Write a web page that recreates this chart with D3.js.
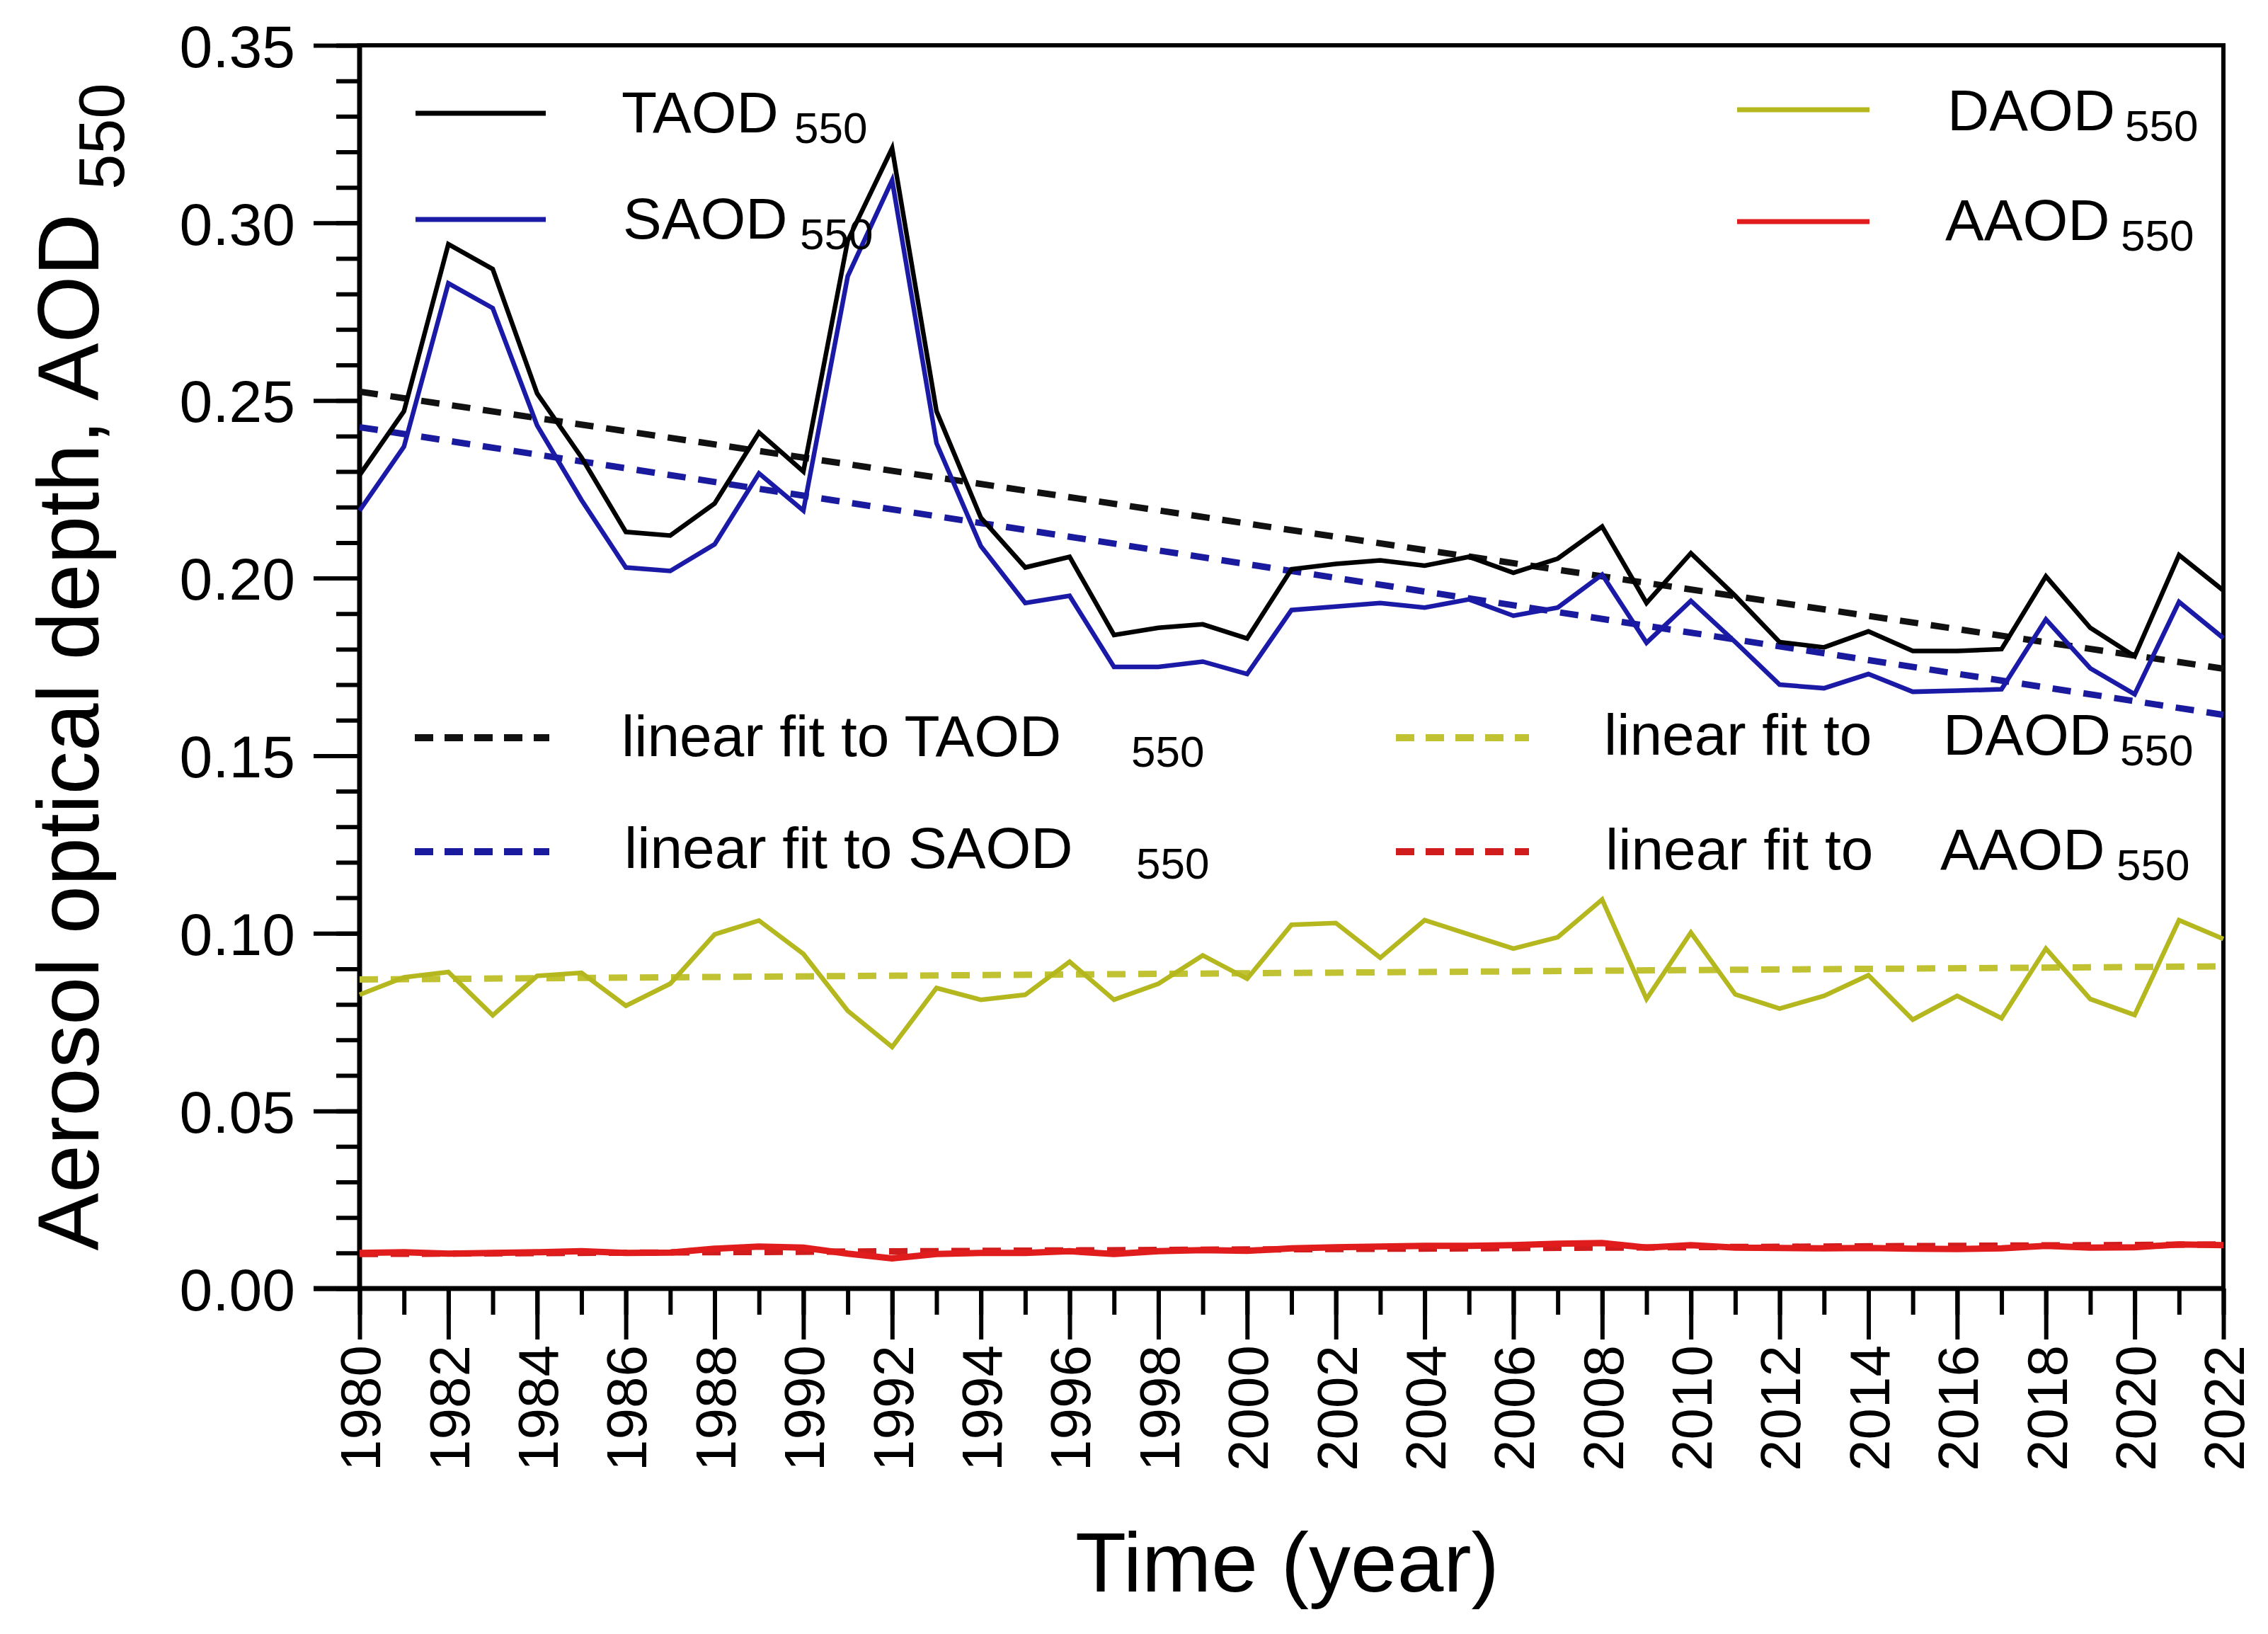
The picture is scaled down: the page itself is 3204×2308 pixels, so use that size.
<!DOCTYPE html>
<html lang="en">

<head>
  <meta charset="UTF-8">
  <title>AOD 550</title>
  <script src="https://d3js.org/d3.v7.min.js"></script>
  <style>
    body { margin: 0; background: #fff; }
    text { font-family: "Liberation Sans", Arial, sans-serif; fill: #000; }
  </style>
</head>

<body>
  <div id="chart"></div>

  <script>

    // yearly values
    const years = d3.range(1980, 2023);

    const taod = [0.229, 0.247, 0.294, 0.287, 0.252, 0.234, 0.213, 0.212, 0.221, 0.241,
      0.230, 0.295, 0.321, 0.247, 0.217, 0.203, 0.206, 0.184, 0.186, 0.187,
      0.183, 0.2025, 0.204, 0.205, 0.2035, 0.206, 0.2015, 0.2055, 0.2145, 0.193,
      0.207, 0.195, 0.182, 0.1805, 0.185, 0.1795, 0.1795, 0.180, 0.2005, 0.186,
      0.178, 0.2065, 0.1965];

    const saod = [0.219, 0.237, 0.283, 0.276, 0.243, 0.222, 0.203, 0.202, 0.2095, 0.2295,
      0.219, 0.285, 0.312, 0.238, 0.209, 0.193, 0.195, 0.175, 0.175, 0.1765,
      0.173, 0.191, 0.192, 0.193, 0.1917, 0.194, 0.1894, 0.1917, 0.201, 0.1818,
      0.1936, 0.182, 0.170, 0.169, 0.173, 0.168, 0.1683, 0.1687, 0.1884, 0.1746,
      0.1673, 0.1933, 0.1831];

    const daod = [0.0827, 0.0876, 0.0891, 0.0769, 0.0880, 0.0889, 0.0796, 0.0858, 0.0997, 0.1036,
      0.0942, 0.0782, 0.0680, 0.0846, 0.0813, 0.0827, 0.0920, 0.0813, 0.0858, 0.0938,
      0.0872, 0.1024, 0.1029, 0.0931, 0.1037, 0.0997, 0.0957, 0.0989, 0.1095, 0.0815,
      0.1002, 0.0828, 0.0788, 0.0824, 0.0882, 0.0757, 0.0824, 0.0761, 0.0957, 0.0815,
      0.0770, 0.1037, 0.0984];

    const aaod = [0.0100, 0.0102, 0.0098, 0.0100, 0.0102, 0.0105, 0.0100, 0.0101, 0.0112, 0.0118,
      0.0115, 0.0098, 0.0085, 0.0097, 0.0100, 0.0100, 0.0105, 0.0097, 0.0105, 0.0108,
      0.0106, 0.0113, 0.0116, 0.0118, 0.0120, 0.0120, 0.0122, 0.0126, 0.0128, 0.0115,
      0.0122, 0.0115, 0.0114, 0.0113, 0.0114, 0.0112, 0.0111, 0.0113, 0.0120, 0.0115,
      0.0116, 0.0124, 0.0122];

    // linear fits, end points at 1980 and 2022
    const fitYears = [1980, 2022];
    const fitTaod = [0.2525, 0.1745];
    const fitSaod = [0.2425, 0.1615];
    const fitDaod = [0.0870, 0.0907];
    const fitAaod = [0.0097, 0.0124];

    const yMajor = [0, 0.05, 0.10, 0.15, 0.20, 0.25, 0.30, 0.35];
    const xMajor = d3.range(1980, 2023, 2);

    const W = 3204, H = 2308;
    const pLeft = 508, pRight = 3141, pTop = 64, pBottom = 1820;

    const svg = d3.select('#chart').append('svg')
      .attr('width', W)
      .attr('height', H);

    svg.append('rect').attr('width', W).attr('height', H).attr('fill', '#fff');

    const x = d3.scaleLinear().domain([1980, 2022]).range([pLeft, pRight]);
    const y = d3.scaleLinear().domain([0, 0.35]).range([pBottom, pTop]);

    // y axis ticks
    svg.append('g')
      .attr('transform', `translate(${pLeft},0)`)
      .call(d3.axisLeft(y).tickValues(y.ticks(35)).tickSize(33).tickFormat(''))
      .call(g => g.select('.domain').remove());

    const yAxis = svg.append('g')
      .attr('transform', `translate(${pLeft},0)`)
      .call(d3.axisLeft(y).tickValues(yMajor).tickSize(65).tickPadding(26).tickFormat(d3.format('.2f')))
      .call(g => g.select('.domain').remove());
    yAxis.selectAll('text')
      .attr('dy', '0.36em')
      .style('font-size', '84px')
      .style('font-family', '"Liberation Sans", Arial, sans-serif');

    // x axis ticks
    svg.append('g')
      .attr('transform', `translate(0,${pBottom})`)
      .call(d3.axisBottom(x).tickValues(years).tickSize(37).tickFormat(''))
      .call(g => g.select('.domain').remove());

    const xAxis = svg.append('g')
      .attr('transform', `translate(0,${pBottom})`)
      .call(d3.axisBottom(x).tickValues(xMajor).tickSize(72).tickFormat(d3.format('d')))
      .call(g => g.select('.domain').remove());
    xAxis.selectAll('text')
      .attr('transform', 'rotate(-90)')
      .attr('x', -80)
      .attr('y', 0)
      .attr('dy', '0.36em')
      .style('text-anchor', 'end')
      .style('font-size', '80px')
      .style('font-family', '"Liberation Sans", Arial, sans-serif');

    svg.selectAll('.tick line').attr('stroke', '#000').attr('stroke-width', 6);

    // frame
    svg.append('rect')
      .attr('x', pLeft).attr('y', pTop)
      .attr('width', pRight - pLeft).attr('height', pBottom - pTop)
      .attr('fill', 'none').attr('stroke', '#000').attr('stroke-width', 6);
    svg.append('line').attr('x1', pLeft).attr('x2', pLeft).attr('y1', pTop - 3).attr('y2', pBottom + 3)
      .attr('stroke', '#000').attr('stroke-width', 7);
    svg.append('line').attr('x1', pLeft - 65).attr('x2', pRight + 3).attr('y1', pBottom).attr('y2', pBottom)
      .attr('stroke', '#000').attr('stroke-width', 7);

    // series
    const line = d3.line().x(d => x(d[0])).y(d => y(d[1]));
    const pairs = (xs, vs) => xs.map((v, i) => [v, vs[i]]);

    const plot = svg.append('g');

    const series = [
      { v: daod, color: '#b4b71e', w: 6.5 },
      { v: aaod, color: '#e01c1c', w: 9 },
      { v: saod, color: '#1a1aa6', w: 6.5 },
      { v: taod, color: '#000000', w: 6.5 }
    ];
    const fits = [
      { v: fitDaod, color: '#c0c232' },
      { v: fitAaod, color: '#d01c1c' },
      { v: fitSaod, color: '#1a1a9e' },
      { v: fitTaod, color: '#111111' }
    ];

    plot.selectAll('.fit')
      .data(fits)
      .enter()
      .append('path')
      .attr('class', 'fit')
      .attr('d', d => line(pairs(fitYears, d.v)))
      .attr('fill', 'none')
      .attr('stroke', d => d.color)
      .attr('stroke-width', 9)
      .attr('stroke-dasharray', '26,18');

    plot.selectAll('.series')
      .data(series)
      .enter()
      .append('path')
      .attr('class', 'series')
      .attr('d', d => line(pairs(years, d.v)))
      .attr('fill', 'none')
      .attr('stroke', d => d.color)
      .attr('stroke-width', d => d.w)
      .attr('stroke-linejoin', 'miter');

    // legend
    const legend = svg.append('g');

    const key = (x1, x2, yy, color, dashed) => {
      legend.append('line')
        .attr('x1', x1).attr('x2', x2).attr('y1', yy).attr('y2', yy)
        .attr('stroke', color)
        .attr('stroke-width', dashed ? 10 : 7)
        .attr('stroke-dasharray', dashed ? '26,16' : null);
    };

    const label = (tx, ty, main, sx, sub) => {
      legend.append('text').attr('x', tx).attr('y', ty)
        .style('font-size', '82px').text(main);
      if (sub) {
        legend.append('text').attr('x', sx).attr('y', ty + 15)
          .style('font-size', '62px').text(sub);
      }
    };

    key(587, 771, 160, '#000000', false);
    label(878, 187, 'TAOD', 1122, '550');
    key(587, 771, 310, '#1a1aa6', false);
    label(880, 337, 'SAOD', 1130, '550');

    key(2454, 2641, 155, '#b4b71e', false);
    label(2751, 184, 'DAOD', 3002, '550');
    key(2454, 2641, 313, '#e01c1c', false);
    label(2748, 339, 'AAOD', 2996, '550');

    key(586, 776, 1042, '#111111', true);
    label(878, 1068, 'linear fit to TAOD', 1598, '550');
    key(586, 776, 1203, '#1a1a9e', true);
    label(882, 1226, 'linear fit to SAOD', 1605, '550');

    key(1972, 2160, 1042, '#c0c232', true);
    label(2266, 1066, 'linear fit to', null, null);
    label(2745, 1066, 'DAOD', 2995, '550');
    key(1972, 2160, 1203, '#d01c1c', true);
    label(2268, 1228, 'linear fit to', null, null);
    label(2741, 1228, 'AAOD', 2990, '550');

    // axis titles
    svg.append('text')
      .attr('x', (pLeft + pRight) / 2 - 6)
      .attr('y', 2248)
      .attr('text-anchor', 'middle')
      .style('font-size', '118px')
      .text('Time (year)');

    const yTitle = svg.append('text')
      .attr('transform', `translate(139,${(pTop + pBottom) / 2}) rotate(-90)`)
      .attr('text-anchor', 'middle')
      .style('font-size', '122px');
    yTitle.append('tspan').text('Aerosol optical depth, AOD ');
    yTitle.append('tspan').attr('dy', 36).style('font-size', '90px').text('550');

  </script>
</body>

</html>
